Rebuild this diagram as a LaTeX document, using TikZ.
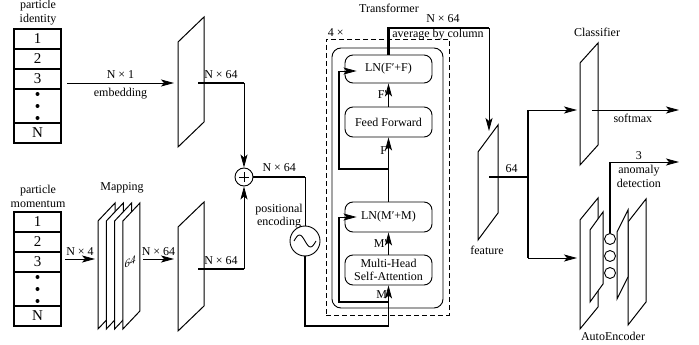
\documentclass[tikz,border=0pt]{standalone}
\usepackage{fontspec}
\setmainfont{Liberation Serif}
\usetikzlibrary{arrows.meta,positioning}
\tikzstyle{cell}=[
        draw,
        line width = 2.4pt,
        outer sep = 0pt,
        inner sep = 0pt,
        minimum width = 47pt,
        minimum height = 20pt,
        font = \fontsize{15}{15}\selectfont
    ]
\tikzstyle{block}=[
        draw,
        line width = 0.9pt,
        rounded corners = 8pt,
        minimum width = 87pt,
        minimum height = 30pt,
        inner sep = 1pt,
        align = center,
        font = \fontsize{12}{13}\selectfont
    ]
\tikzstyle{flow}=[line width = 0.8pt, -{Stealth[length=13pt,width=7pt,inset=3pt]}]
\tikzstyle{wire}=[line width = 2.2pt]
\tikzstyle{pipe}=[line width = 1.3pt]
\tikzstyle{txt}=[inner sep = 1pt]
\newcommand{\slab}[5]{\draw[line width=1pt, fill=white] (#1,#2+#5) -- (#1+#3,#2) -- (#1+#3,#2+#4) -- (#1,#2+#4+#5) -- cycle;}

\begin{document}
\begin{tikzpicture}[x=1pt, y=-1pt, font=\fontsize{12}{14}\selectfont]
        \useasboundingbox (0,0) rectangle (699,345);

        % particle identity
        \node[txt, align=center] (idlab) at (38,13) {particle\\identity};
        \node[cell] (id1) at (37.5,39) {1};
        \node[cell] (id2) [below=0pt of id1] {2};
        \node[cell] (id3) [below=0pt of id2] {3};
        \node[cell, minimum height=34pt] (iddot) [below=0pt of id3] {};
        \node[cell] (idN) [below=0pt of iddot] {N};
        \fill (iddot.center) ++(0,-12) circle (2pt) ++(0,12) circle (2pt) ++(0,12) circle (2pt);

        % particle momentum
        \node[txt, align=center] (molab) at (38,196) {particle\\momentum};
        \node[cell] (mo1) at (37.5,222) {1};
        \node[cell] (mo2) [below=0pt of mo1] {2};
        \node[cell] (mo3) [below=0pt of mo2] {3};
        \node[cell, minimum height=34pt] (modot) [below=0pt of mo3] {};
        \node[cell] (moN) [below=0pt of modot] {N};
        \fill (modot.center) ++(0,-12) circle (2pt) ++(0,12) circle (2pt) ++(0,12) circle (2pt);

        % planes
        \slab{178}{17}{26}{105}{25}
        \slab{178}{202}{26}{104}{25}
        \foreach \i in {0,...,3} {\slab{98+8.3*\i}{203}{17}{108}{18}}
        \node[inner sep=0pt, yslant=0.5, font=\fontsize{11}{11}\selectfont\itshape] (dim) at (130,262) {64};
        \node[txt] (maplab) at (122,188) {Mapping};
        \slab{478}{125}{20}{88}{27}
        \node[txt] (featlab) at (487,250) {feature};
        \slab{580}{43}{18}{102}{20}
        \node[txt] (clslab) at (597,32) {Classifier};
        \slab{580}{198}{18}{109}{22}
        \slab{590}{212}{13}{72}{18}
        \slab{628}{199}{18}{103}{23}
        \slab{617}{210}{11}{67}{22}
        \node[draw, circle, line width=0.9pt, minimum size=11pt, inner sep=0pt] (z1) at (610,239) {};
        \node[draw, circle, line width=0.9pt, minimum size=11pt, inner sep=0pt] (z2) at (610,256) {};
        \node[draw, circle, line width=0.9pt, minimum size=11pt, inner sep=0pt] (z3) at (610,273) {};
        \node[txt] (aelab) at (613,336) {AutoEncoder};

        % embedding
        \coordinate (idout) at (67,83);
        \coordinate (embin) at (174,83);
        \coordinate (embout) at (198,83);
        \coordinate (upj) at (244,83);
        \draw[flow] (idout) -- (embin) node[txt, midway, above=3pt] (n1) {N × 1} node[txt, midway, below=4pt] (emb) {embedding};

        \coordinate (moout) at (65,259);
        \coordinate (mapin) at (95,259);
        \coordinate (mapout) at (143,259);
        \coordinate (embin2) at (174,259);
        \coordinate (embout2) at (198,269);
        \coordinate (lowj) at (244,269);
        \draw[flow] (moout) -- (mapin) node[txt, midway, above=2pt] (n4) {N × 4};
        \draw[flow] (mapout) -- (embin2) node[txt, midway, above=2pt] (n64a) {N × 64};

        % sum and positional encoding
        \node[draw, circle, line width=0.9pt, minimum size=18pt, inner sep=0pt] (add) at (244,177) {};
        \draw[line width=0.9pt] ([xshift=-5pt]add.center) -- ([xshift=5pt]add.center) ([yshift=-5pt]add.center) -- ([yshift=5pt]add.center);
        \draw[wire] (embout) -- (upj) node[txt, midway, above=2pt] (n64b) {N × 64};
        \draw[flow] (upj) -- (add.north);
        \draw[wire] (embout2) -- (lowj) node[txt, midway, above=2pt] (n64c) {N × 64};
        \draw[flow] (lowj) -- (add.south);

        \node[draw, circle, line width=0.9pt, minimum size=30pt, inner sep=0pt] (pe) at (305,241) {};
        \draw[line width=0.9pt] ([xshift=-11pt]pe.center) sin ++(5.5,-6) cos ++(5.5,6) sin ++(5.5,6) cos ++(5.5,-6);
        \node[txt, align=center, font=\fontsize{12}{13}\selectfont] (pelab) at (279,216) {positional\\encoding};
        \coordinate (pej) at (305,177);
        \draw[wire] (add.east) -- (pej) node[txt, midway, above=3pt] (n64d) {N × 64};
        \draw[line width=0.9pt] (pej) -- (pe.north);

        % transformer
        \node[draw, dash pattern=on 5pt off 3pt, line width=0.9pt, minimum width=123pt, minimum height=276pt] (rep) at (387.5,177) {};
        \node[txt, anchor=south west] (rep4) at ([xshift=1pt, yshift=1pt]rep.north west) {4 ×};
        \node[txt] (trlab) at (389,8) {Transformer};
        \node[draw, line width=0.9pt, rounded corners=9pt, minimum width=111pt, minimum height=260pt] (enc) at (387.5,178) {};
        \node[block, minimum height=28pt] (ln2) at (388.5,69) {LN(F′+F)};
        \node[block] (ff) at (388.5,122) {Feed Forward};
        \node[block] (ln1) at (388.5,217) {LN(M′+M)};
        \node[block] (mha) at (388.5,270) {Multi-Head\\Self-Attention};

        \coordinate (pebot) at (305,326);
        \coordinate (mhaj) at (388.5,326);
        \draw[pipe] (pe.south) -- (pebot) -- (mhaj);
        \draw[flow] (mhaj) -- (mha.south) node[txt, pos=0.78, left] (lm) {M};
        \draw[flow] (mha.north) -- (ln1.south) node[txt, midway, left] (lmp) {M′};
        \draw[flow] (ln1.north) -- (ff.south) node[txt, pos=0.8, left] (lf) {F};
        \draw[flow] (ff.north) -- (ln2.south) node[txt, midway, left] (lfp) {F′};

        \coordinate (r1) at (388.5,302);
        \coordinate (l1) at (339,217);
        \draw[wire] (r1) -- (339,302) -- (l1);
        \draw[flow] (l1) -- ([xshift=12pt]ln1.west);
        \coordinate (r2) at (388.5,169);
        \coordinate (l2) at (339,71);
        \draw[wire] (r2) -- (339,169) -- (l2);
        \draw[flow] (l2) -- ([xshift=12pt,yshift=-2pt]ln2.west);

        % pooling
        \coordinate (outj) at (388.5,28);
        \coordinate (featj) at (489,28);
        \coordinate (featin) at (489,131);
        \draw[wire] (ln2.north) -- (outj) -- (featj);
        \draw[flow] (featj) -- (featin);
        \node[txt] (n64e) at (443,19) {N × 64};
        \node[txt] (avg) at (438,35) {average by column};

        % heads
        \coordinate (featout) at (489,177);
        \coordinate (split) at (528,177);
        \coordinate (clsj) at (528,110);
        \coordinate (aej) at (528,258);
        \coordinate (clsin) at (577,110);
        \coordinate (aein) at (577,258);
        \draw[wire] (featout) -- (split) node[txt, midway, above=2pt, xshift=3pt] (n64f) {64};
        \draw[wire] (clsj) -- (aej);
        \draw[flow] (clsj) -- (clsin);
        \draw[flow] (aej) -- (aein);

        \coordinate (smout) at (592,110);
        \coordinate (smend) at (679,110);
        \draw[flow] (smout) -- (smend) node[txt, pos=0.47, below=3pt] (sm) {softmax};

        \coordinate (adj) at (610,162);
        \coordinate (adend) at (679,162);
        \draw[wire] (z1.north) -- (adj);
        \draw[flow] (adj) -- (adend) node[txt, pos=0.42, above=1pt] (n3) {3} node[txt, pos=0.42, below=2pt, align=center, font=\fontsize{12}{14}\selectfont] (ad) {anomaly\\detection};

    \end{tikzpicture}
\end{document}
